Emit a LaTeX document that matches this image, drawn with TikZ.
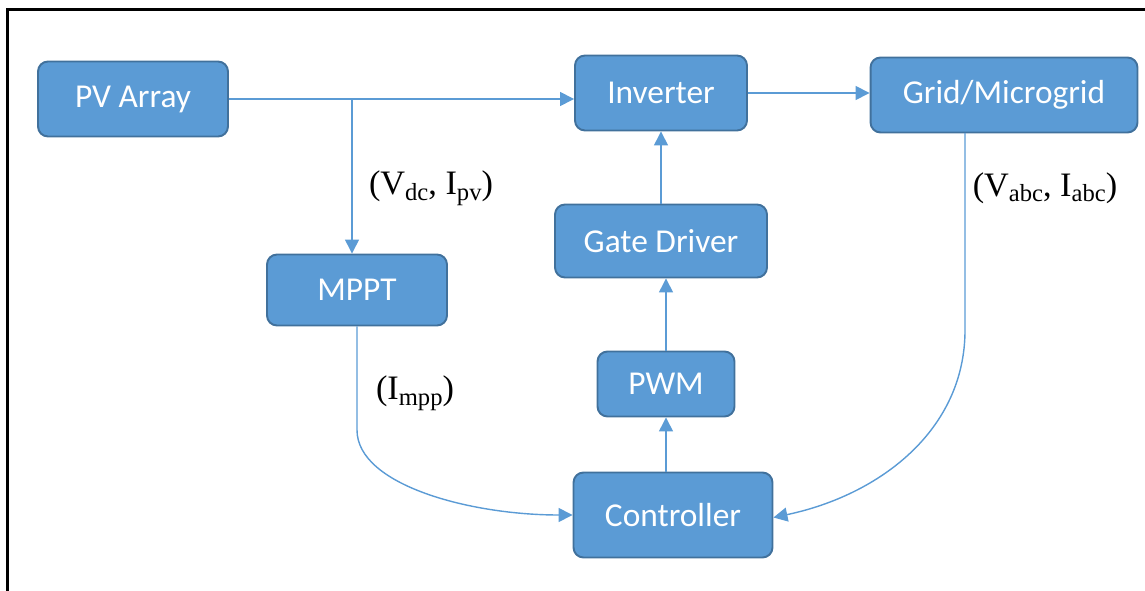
\documentclass[tikz,border=0pt]{standalone}
\usepackage{fontspec}
\setmainfont{Liberation Serif}
\newfontfamily\boxfont{Carlito}
\usetikzlibrary{arrows.meta}

\definecolor{boxblue}{HTML}{5B9BD5}
\definecolor{boxedge}{HTML}{41719C}

% lowered, smaller index for the signal labels
\newcommand{\lowidx}[1]{\raisebox{-0.35ex}{\fontsize{14}{16}\selectfont #1}}

\begin{document}
\begin{tikzpicture}[x=0.02cm, y=-0.02cm,
    block/.style={rectangle, rounded corners=0.2cm, draw=boxedge, line width=1.1pt,
      fill=boxblue, text=white, font=\boxfont\fontsize{19}{22}\selectfont,
      minimum height=1.5cm},
    link/.style={draw=boxblue, line width=0.8pt},
    arr/.style={link, -{Triangle[length=0.28cm, width=0.28cm]}},
    sig/.style={font=\fontsize{19.5}{22}\selectfont, inner sep=0pt}]

        % Page size and the frame round it
        \useasboundingbox (0,0) rectangle (1145,591);
        \draw[line width=0.06cm] (7.5,600) -- (7.5,10) -- (1160,10);

        % Blocks
        \node[block, minimum width=3.8cm] (pv) at (133,99) {PV Array};
        \node[block, minimum width=3.44cm] (inv) at (661,93) {Inverter};
        \node[block, minimum width=5.34cm] (grid) at (1004,95) {Grid/Microgrid};
        \node[block, minimum width=4.24cm, minimum height=1.46cm] (gate) at (661,241) {Gate Driver};
        \node[block, minimum width=3.6cm, minimum height=1.42cm] (mppt) at (357,290) {MPPT};
        \node[block, minimum width=2.74cm, minimum height=1.3cm] (pwm) at (666,384) {PWM};
        \node[block, minimum width=3.98cm, minimum height=1.7cm] (ctrl) at (673,515) {Controller};

        % Power path
        \draw[arr] (pv.east) -- (pv.east -| inv.west);
        \draw[arr] (inv.east) -- (inv.east -| grid.west);

        % Measured PV voltage and current to the MPPT
        \coordinate (tap) at (352,99);
        \draw[arr] (tap) -- (tap |- mppt.north);
        \node[sig] (vdc) at (431,188) {(V\lowidx{dc}, I\lowidx{pv})};

        % Gate signal chain
        \draw[arr] (ctrl.north -| pwm) -- (pwm.south);
        \draw[arr] (pwm.north) -- (pwm.north |- gate.south);
        \draw[arr] (gate.north) -- (inv.south);

        % Reference current from the MPPT
        \coordinate (mbend) at (357,430);
        \draw[arr] (mppt.south) -- (mbend) .. controls (357,485) and (470,515) .. (ctrl.west);
        \node[sig] (impp) at (415,393) {(I\lowidx{mpp})};

        % Grid feedback to the controller
        \coordinate (gdown) at (965,133);
        \coordinate (gbend) at (965,330);
        \draw[arr] (gdown) -- (gbend) .. controls (965,430) and (880,495) .. ([yshift=-0.05cm]ctrl.east);
        \node[sig] (vabc) at (1045,188) {(V\lowidx{abc}, I\lowidx{abc})};
\end{tikzpicture}
\end{document}
